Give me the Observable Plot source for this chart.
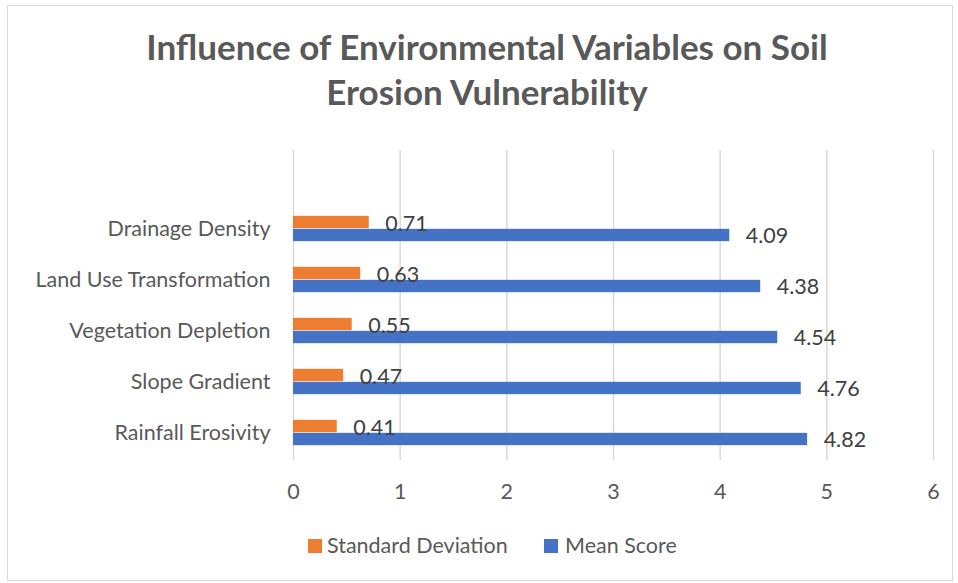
<!DOCTYPE html>
<html>
<head>
<meta charset="utf-8">
<script src="https://cdn.jsdelivr.net/npm/d3@7"></script>
<script src="https://cdn.jsdelivr.net/npm/@observablehq/plot@0.6"></script>
<style>
  html, body { margin: 0; padding: 0; background: #fff; }
  #wrap { position: relative; width: 958px; height: 583px; overflow: hidden; font-family: Lato, "Open Sans", sans-serif; }
  #border { position: absolute; left: 7px; top: 5px; width: 944px; height: 574px; border: 1.5px solid #d9d9d9; }
  #title { position: absolute; left: 0; width: 974px; top: 24px; text-align: center; font-weight: bold; font-size: 35px; line-height: 45px; color: #595959; }
  #chart { position: absolute; left: 0; top: 130px; }
  .sw { position: absolute; width: 14px; height: 14px; }
  .lt { position: absolute; font-size: 21.5px; color: #595959; line-height: 24px; }
</style>
</head>
<body>
<div id="wrap">
  <div id="border"></div>
  <div id="title">Influence of Environmental Variables on Soil<br>Erosion Vulnerability</div>
  <div id="chart"></div>
  <div class="sw" style="left:308px; top:539px; background:#ED7D31"></div>
  <div class="lt" style="left:327px; top:533px">Standard Deviation</div>
  <div class="sw" style="left:544px; top:539px; background:#4472C4"></div>
  <div class="lt" style="left:565px; top:533px">Mean Score</div>
</div>
<script>
const categories = ["Drainage Density", "Land Use Transformation", "Vegetation Depletion", "Slope Gradient", "Rainfall Erosivity"];
const stdDev = [0.71, 0.63, 0.55, 0.47, 0.41];
const meanScore = [4.09, 4.38, 4.54, 4.76, 4.82];
const xTicks = [0, 1, 2, 3, 4, 5, 6];

const sdData = categories.map((c, i) => ({ cat: c, v: stdDev[i] }));
const meanData = categories.map((c, i) => ({ cat: c, v: meanScore[i] }));

const bandH = 310 / 6;
const barH = 13;
const fs = 21.5;

const plot = Plot.plot({
  width: 958,
  height: 380,
  marginLeft: 293,
  marginRight: 25,
  marginTop: 20,
  marginBottom: 50,
  style: { fontFamily: "Lato, 'Open Sans', sans-serif", fontSize: fs + "px", color: "#595959", background: "transparent" },
  x: { domain: [0, 6], ticks: xTicks, label: null },
  y: { domain: [""].concat(categories), padding: 0, label: null },
  marks: [
    Plot.ruleX(xTicks, { stroke: "#d9d9d9", strokeWidth: 1.5 }),
    Plot.barX(sdData, { x: "v", y: "cat", fill: "#ED7D31", insetTop: bandH / 2 - barH, insetBottom: bandH / 2 }),
    Plot.barX(meanData, { x: "v", y: "cat", fill: "#4472C4", insetTop: bandH / 2, insetBottom: bandH / 2 - barH }),
    Plot.text(sdData, { x: "v", y: "cat", text: d => d.v.toFixed(2), textAnchor: "start", dx: 16, dy: -5, fill: "#404040", fontSize: fs }),
    Plot.text(meanData, { x: "v", y: "cat", text: d => d.v.toFixed(2), textAnchor: "start", dx: 16, dy: 7, fill: "#404040", fontSize: fs }),
    Plot.axisY({ tickSize: 0, tickPadding: 23, fill: "#595959", fontSize: fs, tickFormat: d => d }),
    Plot.axisX({ ticks: xTicks, tickSize: 0, tickPadding: 23, fill: "#595959", fontSize: fs, tickFormat: d3.format("d") })
  ]
});
document.getElementById("chart").appendChild(plot);
</script>
</body>
</html>
